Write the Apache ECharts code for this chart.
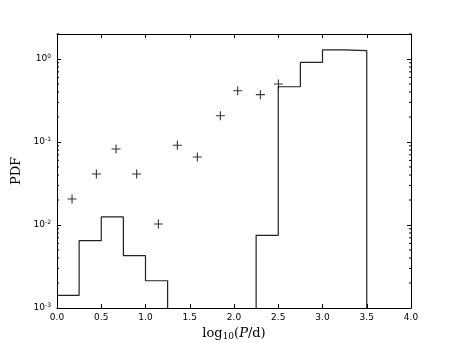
<!DOCTYPE html>
<html>
<head>
<meta charset="utf-8">
<script src="https://cdn.jsdelivr.net/npm/echarts@6/dist/echarts.min.js"></script>
<style>
  html, body { margin: 0; padding: 0; background: #fff; }
  #main { width: 457px; height: 343px; }
</style>
</head>
<body>
<div id="main"></div>
<script>
// histogram: bin edges and PDF height of each bin (0 = empty bin)
var binEdges = [0, 0.25, 0.5, 0.75, 1.0, 1.25, 1.5, 1.75, 2.0, 2.25, 2.5, 2.75, 3.0, 3.25, 3.5];
var binPdf = [0.00142, 0.00647, 0.0125, 0.00427, 0.00213, 0, 0, 0, 0, 0.0075, 0.463, 0.91, 1.29, 1.26];

// the '+' points
var pointX = [0.17, 0.445, 0.667, 0.90, 1.146, 1.36, 1.586, 1.846, 2.042, 2.298, 2.502];
var pointPdf = [0.0206, 0.0411, 0.0824, 0.0411, 0.0103, 0.0912, 0.0659, 0.207, 0.415, 0.372, 0.50];

var yMin = 0.001, yMax = 2;
// empty bins are drawn far below the axis so the grid clips them
var yFloor = 1e-6;
var minorTicks = [];
for (var e = -3; e <= 0; e++) {
  for (var m = 2; m <= 9; m++) {
    var v = m * Math.pow(10, e);
    if (v <= yMax) minorTicks.push(v);
  }
}

var histData = [];
for (var i = 0; i < binPdf.length; i++) {
  histData.push([binEdges[i], binPdf[i] > 0 ? binPdf[i] : yFloor]);
}
histData.push([binEdges[binEdges.length - 1], yFloor]);

var pointData = pointX.map(function (x, i) { return [x, pointPdf[i]]; });

function powLabel(v) {
  var l = Math.log(v) / Math.LN10;
  var e = Math.round(l);
  if (Math.abs(l - e) > 1e-6) return '';
  return '{b|10}{s|' + e + '}';
}

var myChart = echarts.init(document.getElementById('main'));

var axisLine = { show: true, onZero: false, lineStyle: { color: '#000', width: 1 } };
var option = {
  animation: false,
  backgroundColor: '#fff',
  grid: { left: 57, right: 46, top: 34, bottom: 35, outerBoundsMode: 'none', containLabel: false },
  xAxis: [{
    type: 'value',
    min: 0, max: 4, interval: 0.5,
    name: '{n|log}{sub|10}{n|(}{i|P}{n|/d)}',
    nameLocation: 'middle',
    nameGap: 15,
    nameTextStyle: {
      rich: {
        n: { fontFamily: 'DejaVu Serif', fontSize: 13, color: '#000' },
        i: { fontFamily: 'DejaVu Serif', fontStyle: 'italic', fontSize: 13, color: '#000' },
        sub: { fontFamily: 'DejaVu Serif', fontSize: 9, color: '#000', padding: [6, 0, 0, 0] }
      }
    },
    axisLine: axisLine,
    axisTick: { inside: true, length: 4, lineStyle: { color: '#000' } },
    axisLabel: {
      margin: 5,
      fontFamily: 'DejaVu Sans', fontSize: 9, color: '#000',
      formatter: function (v) { return v.toFixed(1); }
    },
    splitLine: { show: false }
  }, {
    type: 'value',
    position: 'top',
    min: 0, max: 4, interval: 0.5,
    axisLine: axisLine,
    axisTick: { inside: true, length: 4, lineStyle: { color: '#000' } },
    axisLabel: { show: false },
    splitLine: { show: false }
  }],
  yAxis: [{
    type: 'log',
    logBase: 10,
    min: yMin, max: yMax,
    name: 'PDF',
    nameLocation: 'middle',
    nameGap: 30,
    nameTextStyle: { fontFamily: 'DejaVu Serif', fontSize: 13, color: '#000' },
    axisLine: axisLine,
    axisTick: { inside: true, length: 4, lineStyle: { color: '#000' } },
    axisLabel: {
      margin: 6,
      formatter: powLabel,
      rich: {
        b: { fontFamily: 'DejaVu Sans', fontSize: 9, color: '#000' },
        s: { fontFamily: 'DejaVu Sans', fontSize: 6, color: '#000', padding: [0, 0, 6, 0] }
      }
    },
    splitLine: { show: false }
  }, {
    type: 'log',
    logBase: 10,
    position: 'right',
    min: yMin, max: yMax,
    axisLine: axisLine,
    axisTick: { inside: true, length: 4, lineStyle: { color: '#000' } },
    axisLabel: { show: false },
    splitLine: { show: false }
  }],
  series: [
    {
      type: 'line',
      step: 'end',
      data: histData,
      clip: true,
      showSymbol: false,
      symbol: 'none',
      lineStyle: { color: '#222', width: 1.2 },
      z: 3
    },
    {
      type: 'scatter',
      data: pointData,
      symbol: 'path://M0,5L10,5M5,0L5,10',
      symbolSize: 9,
      itemStyle: { color: 'rgba(0,0,0,0)', borderColor: '#000', borderWidth: 1.1 },
      z: 4
    },
    {
      // minor log ticks on left and right
      type: 'custom',
      silent: true,
      clip: false,
      data: minorTicks.map(function (v) { return [0, v]; }),
      renderItem: function (params, api) {
        var v = api.value(1);
        var pl = api.coord([0, v]);
        var pr = api.coord([4, v]);
        var st = { stroke: '#000', lineWidth: 1 };
        return {
          type: 'group',
          children: [
            { type: 'line', shape: { x1: pl[0], y1: pl[1], x2: pl[0] + 2, y2: pl[1] }, style: st },
            { type: 'line', shape: { x1: pr[0], y1: pr[1], x2: pr[0] - 2, y2: pr[1] }, style: st }
          ]
        };
      },
      z: 2
    }
  ]
};

myChart.setOption(option);
</script>
</body>
</html>
